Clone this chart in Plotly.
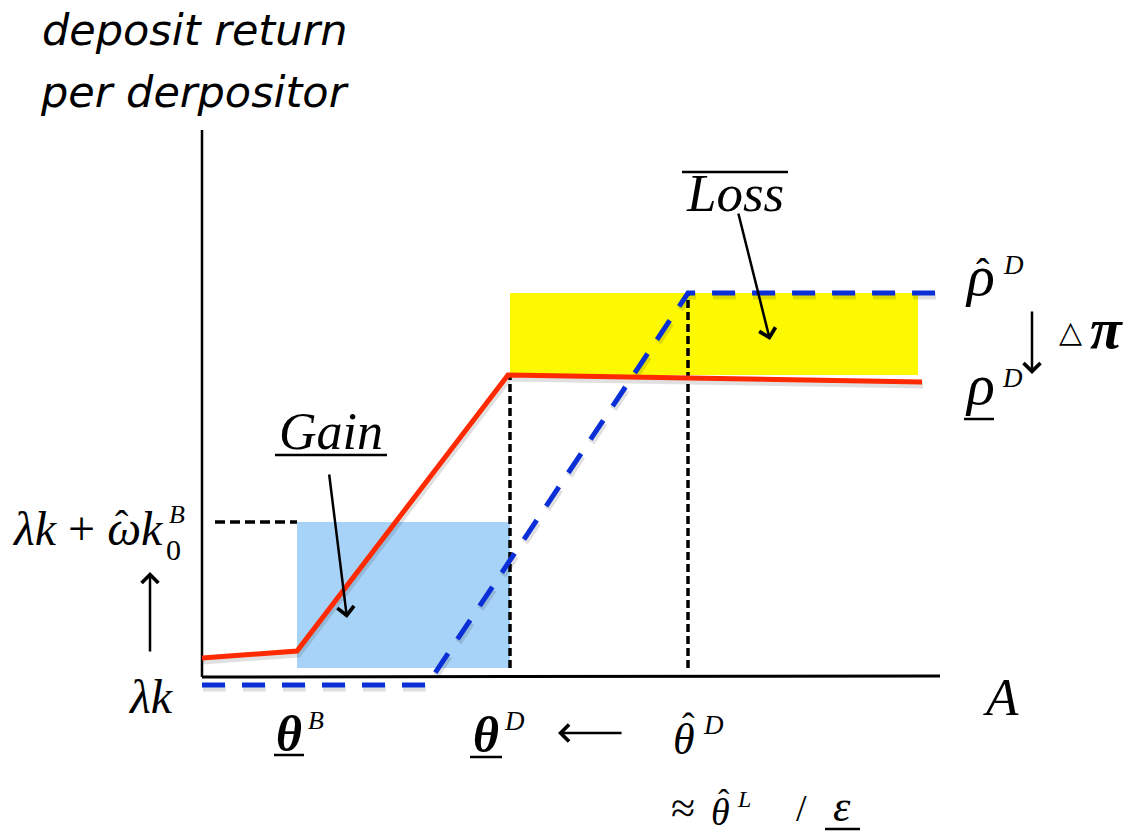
import plotly.graph_objects as go

# ---- chart values (units: horizontal = A, vertical = deposit return) ----
# red: deposit return per depositor, realized schedule
red_x = [0, 95, 306, 720]
red_y = [19, 26, 302, 295]
# blue dashed: schedule with the higher threshold
blue_x = [0, 225, 486, 733]
blue_y = [-8, -8, 384, 384]
# threshold positions on the A axis
theta_B = 95
theta_D = 308
theta_hat_D = 486
# shaded regions
gain_x = [95, 308]
gain_y = [9, 155]
loss_x = [308, 716]
loss_y = [302, 384]
# reference level for the lambda*k + omega*k0 label
upper_level = 155
axis_x_end = 738
axis_y_end = 547

# page geometry: origin of the diagram in page pixels
W, H = 1144, 833
X0, Y0 = 202, 677


def dx(px):
    return px - X0


def dy(py):
    return Y0 - py


SERIF = "Liberation Serif"
SANS = "DejaVu Sans"

RED = "#ff2a00"
BLUE = "#0a2fd6"
LIGHTBLUE = "#a8d3f8"
YELLOW = "#fcf900"

fig = go.Figure()

# shaded areas
fig.add_shape(type="rect", x0=gain_x[0], x1=gain_x[1], y0=gain_y[0], y1=gain_y[1],
              fillcolor=LIGHTBLUE, line_width=0, layer="below")
fig.add_shape(type="rect", x0=loss_x[0], x1=loss_x[1], y0=loss_y[0], y1=loss_y[1],
              fillcolor=YELLOW, line_width=0, layer="below")

# axes
fig.add_trace(go.Scatter(x=[0, 0], y=[0, axis_y_end], mode="lines",
                         line=dict(color="black", width=2.5)))
fig.add_trace(go.Scatter(x=[0, axis_x_end], y=[0, 1], mode="lines",
                         line=dict(color="black", width=3)))

# guide lines
fig.add_trace(go.Scatter(x=[13, theta_B], y=[upper_level, upper_level], mode="lines",
                         line=dict(color="black", width=3.5, dash="10px,5px")))
fig.add_trace(go.Scatter(x=[theta_D, theta_D], y=[9, red_y[2]], mode="lines",
                         line=dict(color="black", width=3.5, dash="8px,4px")))
fig.add_trace(go.Scatter(x=[theta_hat_D, theta_hat_D], y=[9, blue_y[2]], mode="lines",
                         line=dict(color="black", width=3.5, dash="8px,4px")))

# soft shadows under the curves
fig.add_trace(go.Scatter(x=[v + 1 for v in red_x], y=[v - 3 for v in red_y], mode="lines",
                         line=dict(color="rgba(0,0,0,0.12)", width=7)))
fig.add_trace(go.Scatter(x=[v + 1 for v in blue_x], y=[v - 3 for v in blue_y], mode="lines",
                         line=dict(color="rgba(0,0,0,0.12)", width=7, dash="23px,17px")))

# curves
fig.add_trace(go.Scatter(x=red_x, y=red_y, mode="lines",
                         line=dict(color=RED, width=5)))
fig.add_trace(go.Scatter(x=blue_x, y=blue_y, mode="lines",
                         line=dict(color=BLUE, width=5, dash="23px,17px")))


def label(text, px, py, size, family=SERIF, xanchor="center", yanchor="middle"):
    fig.add_annotation(text=text, x=dx(px), y=dy(py), xref="x", yref="y",
                       showarrow=False, xanchor=xanchor, yanchor=yanchor,
                       font=dict(family=family, size=size, color="black"))


def arrow(px0, py0, px1, py1, width=2.5, size=1.3):
    fig.add_annotation(x=dx(px1), y=dy(py1), ax=dx(px0), ay=dy(py0),
                       xref="x", yref="y", axref="x", ayref="y", text="",
                       showarrow=True, arrowhead=4, arrowsize=size,
                       arrowwidth=width, arrowcolor="black")


def rule(px0, px1, py, width=2.5):
    fig.add_shape(type="line", x0=dx(px0), x1=dx(px1), y0=dy(py), y1=dy(py),
                  line=dict(color="black", width=width))


HAT = "\u02c6"

# vertical axis title
label("<i>deposit return</i>", 40, 30, 43, SANS, xanchor="left")
label("<i>per derpositor</i>", 38, 92, 43, SANS, xanchor="left")

# Gain / Loss
label("<i>Gain</i>", 331, 431, 52)
rule(275, 387, 455)
arrow(329, 473, 347, 618)
label("<i>Loss</i>", 735, 193, 53)
rule(682, 788, 172)
arrow(738, 212, 770, 340)

# right-hand levels
label("<i>ρ</i>", 980, 275, 58)
label(HAT, 983, 272, 40)
label("<i>D</i>", 1013, 265, 27)
label("<i>ρ</i>", 980, 384, 58)
label("<i>D</i>", 1012, 378, 27)
rule(964, 994, 419)
arrow(1032, 310, 1032, 374)
label("△", 1070, 331, 30)
label("<b><i>π</i></b>", 1106, 328, 58)

# left-hand levels
label("<i>λk</i> + <i>ωk</i>", 10, 528, 48, xanchor="left")
label(HAT, 122, 524, 40)
label("<i>B</i>", 177, 514, 26)
label("0", 173, 549, 30)
arrow(150, 653, 150, 572)
label("<i>λk</i>", 151, 696, 48)

# horizontal axis
label("<i>A</i>", 1001, 697, 53)
label("<b><i>θ</i></b>", 289, 734, 50)
label("<i>B</i>", 316, 720, 26)
rule(274, 304, 755)
label("<b><i>θ</i></b>", 486, 735, 50)
label("<i>D</i>", 514, 721, 27)
rule(470, 502, 757)
arrow(623, 733, 558, 733)
label("<i>θ</i>", 684, 739, 44)
label(HAT, 688, 726, 38)
label("<i>D</i>", 713, 725, 27)
label("≈", 683, 808, 44)
label("<i>θ</i>", 720, 812, 38)
label(HAT, 724, 801, 34)
label("<i>L</i>", 744, 799, 24)
label("/", 801, 808, 38)
label("<i>ε</i>", 842, 806, 44)
rule(825, 860, 829)

fig.update_layout(
    width=W, height=H,
    margin=dict(l=0, r=0, t=0, b=0),
    paper_bgcolor="white", plot_bgcolor="white",
    showlegend=False,
    xaxis=dict(range=[-X0, W - X0], visible=False, fixedrange=True),
    yaxis=dict(range=[Y0 - H, Y0], visible=False, fixedrange=True),
)

fig.write_html("out.html")
